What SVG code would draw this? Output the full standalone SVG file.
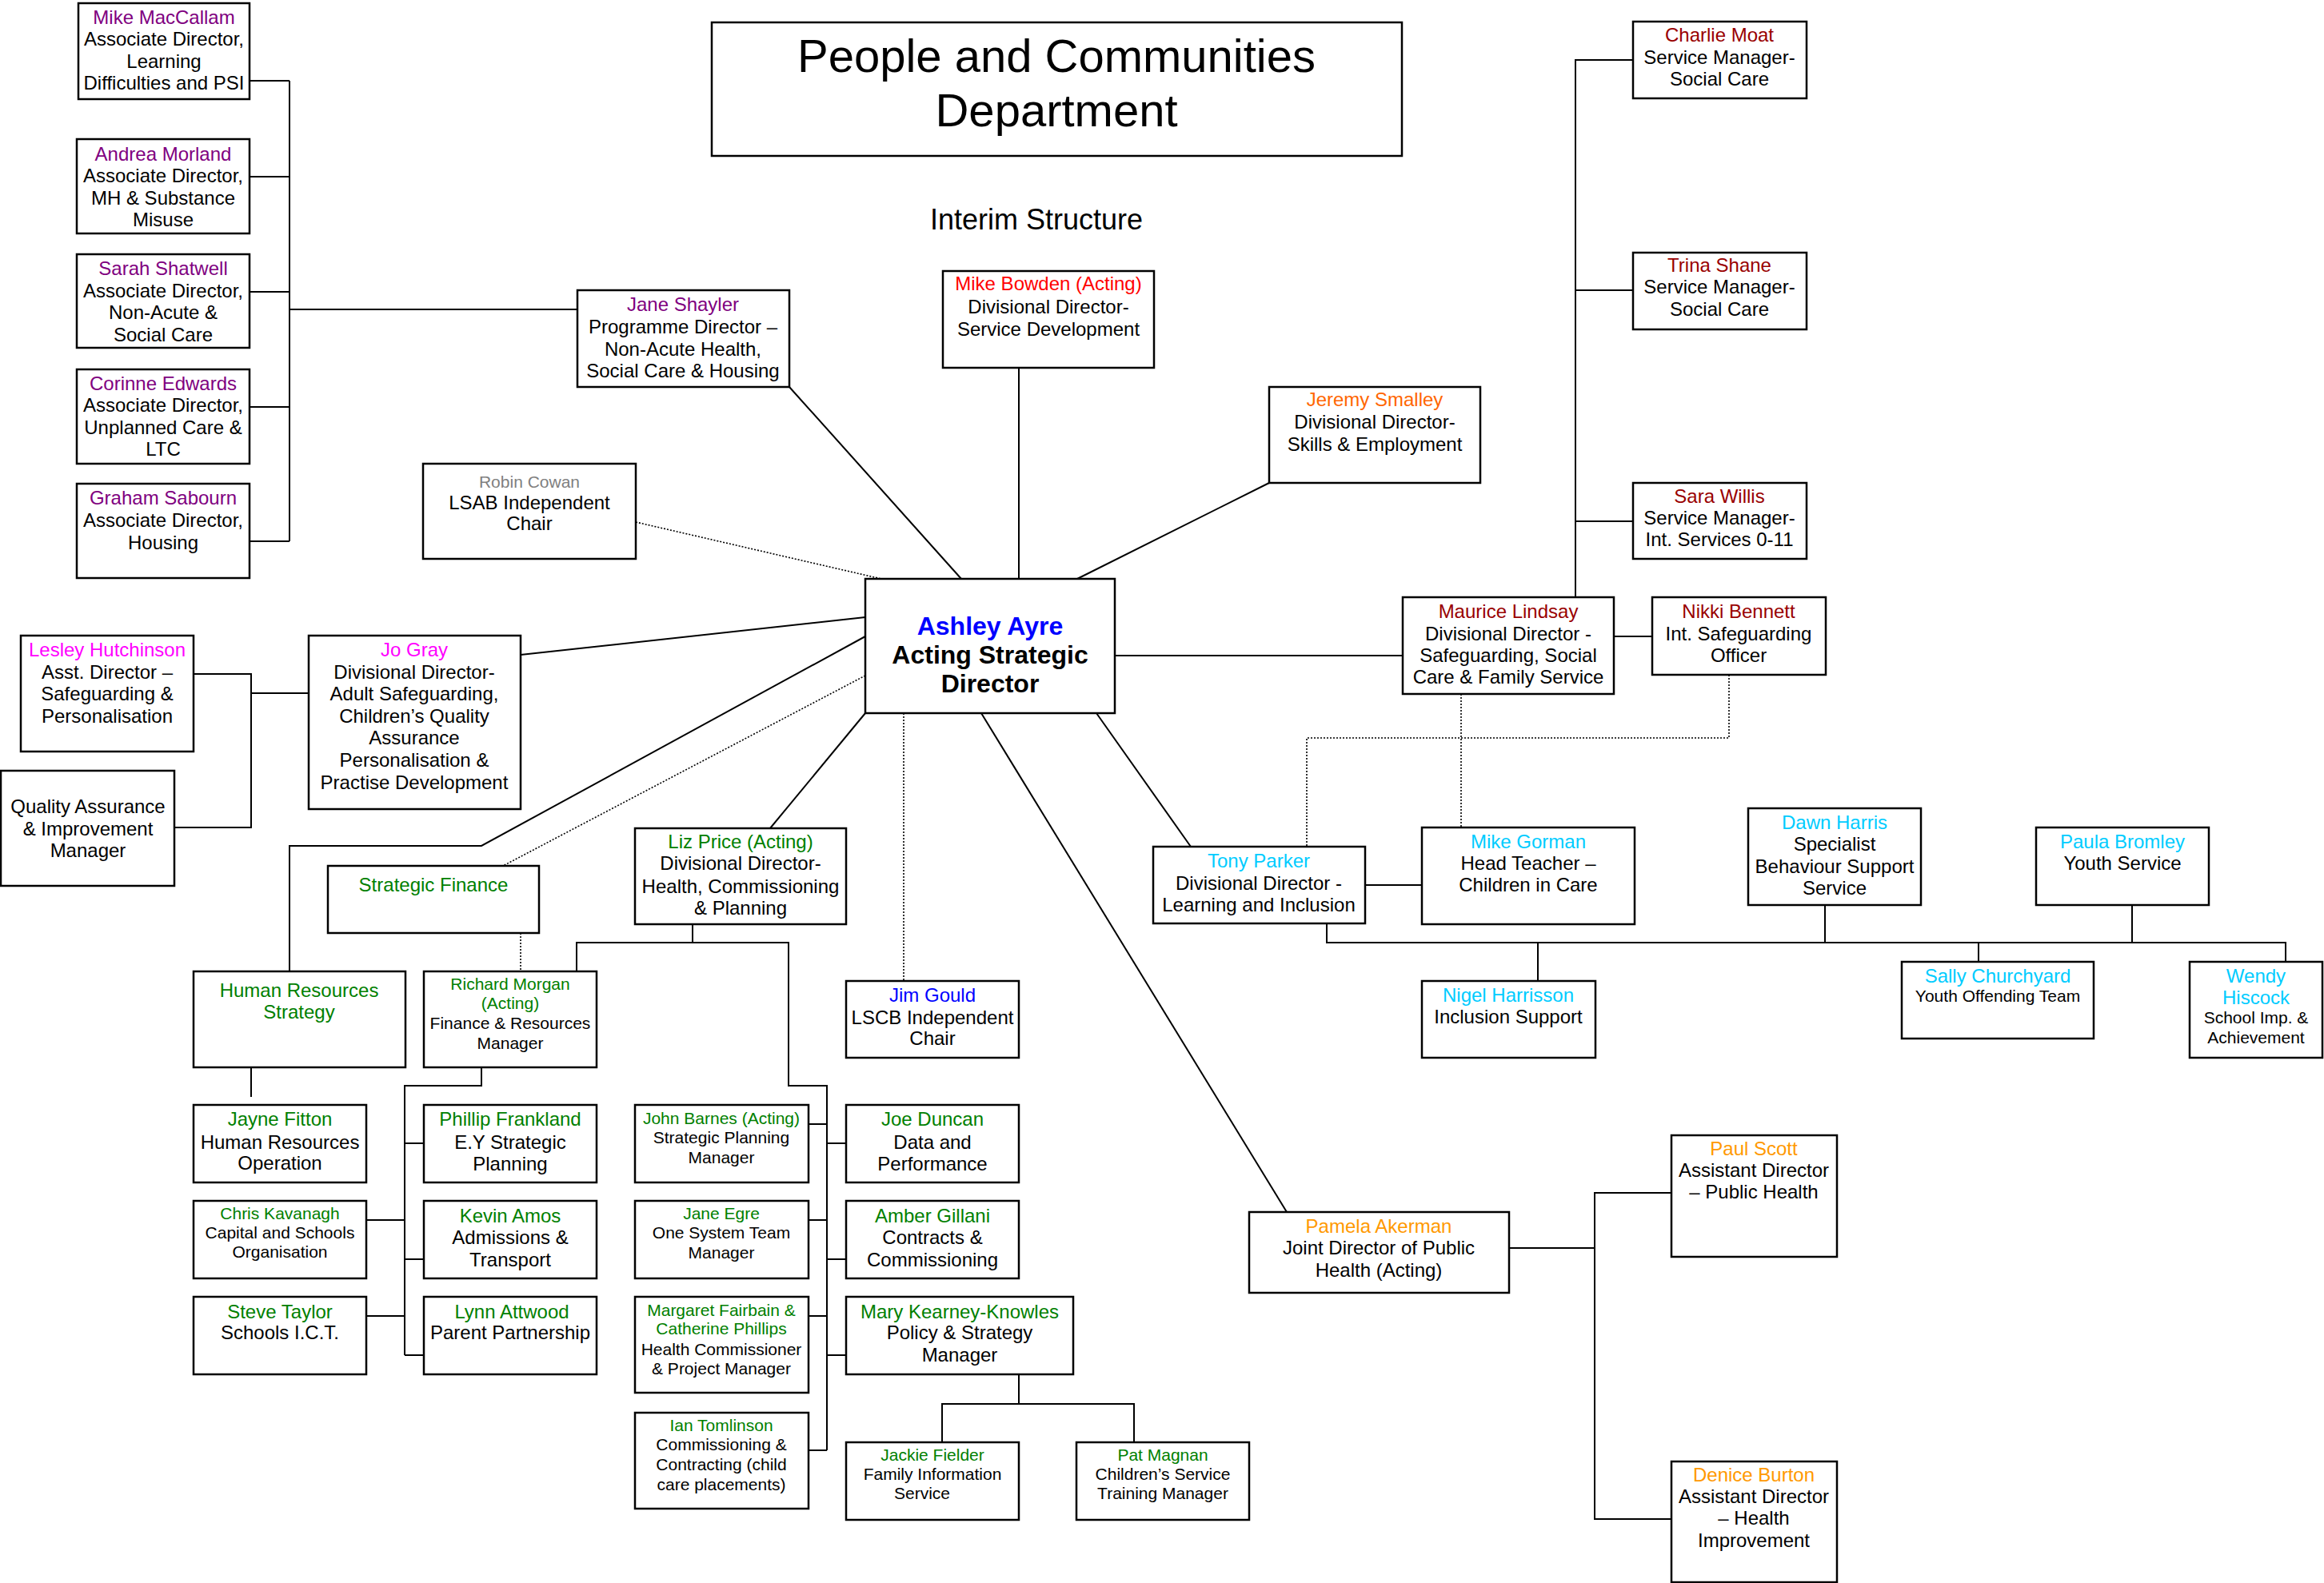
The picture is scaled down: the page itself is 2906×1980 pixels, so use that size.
<svg xmlns="http://www.w3.org/2000/svg" width="2906" height="1980" viewBox="0 0 2906 1980">
<style>
rect{fill:#fff;stroke:#000;stroke-width:2.5}
text{font-family:"Liberation Sans",Arial,sans-serif;font-size:24px;text-anchor:middle;fill:#000}
.s{font-size:21px}
.t{font-size:58px}
.i{font-size:36px}
.b{font-size:32px;font-weight:bold}
.pu{fill:#800080}.gy{fill:#808080}.rd{fill:#FF0000}.or{fill:#FF6600}.dr{fill:#990000}
.mg{fill:#FF00FF}.bl{fill:#0000FF}.gn{fill:#008000}.cy{fill:#00CCFF}.po{fill:#FF9900}
#connectors path{fill:none;stroke:#000;stroke-width:2}
#connectors path.d{stroke-width:1.6;stroke-dasharray:2 2}
</style>
<rect x="0" y="0" width="2906" height="1980" style="stroke:none"/>
<g id="connectors">
<path d="M312,101H362M312,221H362M312,365H362M312,509H362M312,677H362M362,101V677M362,387H722"/>
<path d="M987,484L1202,724M1274,460V724M1587,604L1347,724"/>
<path class="d" d="M795,653L1102,724"/>
<path d="M2042,75H1970V747M1970,363H2042M1970,652H2042"/>
<path d="M1394,820H1754M2018,796H2066"/>
<path d="M242,843H314V1035H218M314,867H386"/>
<path d="M651,819L1082,772"/>
<path d="M1082,796L602,1058H362V1215"/>
<path class="d" d="M1082,845L629,1083M651,1167V1215"/>
<path d="M1082,892L963,1036"/>
<path d="M866,1156V1179M721,1215V1179H986V1358H1034V1814M1011,1406H1034M1034,1430H1058M1011,1526H1034M1034,1575H1058M1011,1646H1034M1034,1695H1058M1011,1814H1034"/>
<path d="M314,1335V1372M602,1335V1358H506V1695M506,1430H530M458,1526H506M506,1575H530M458,1646H506M506,1695H530"/>
<path d="M1274,1714V1756M1178,1804V1756H1418V1804"/>
<path class="d" d="M1130,892V1227"/>
<path d="M1227,892L1609,1516"/>
<path d="M1887,1561H1994M2090,1492H1994V1900H2090"/>
<path d="M1371,892L1489,1059M1707,1107H1778"/>
<path class="d" d="M1827,868V1035M2162,844V923H1634V1075"/>
<path d="M1659,1155V1179H2858V1203M2282,1132V1179M2666,1132V1179M1923,1179V1227M2474,1179V1203"/>
</g>
<g id="title"><rect x="890" y="28" width="863" height="167"/>
<text class="t"><tspan x="1321" y="90">People and Communities</tspan><tspan x="1321" y="158">Department</tspan></text></g>
<g id="subtitle"><text class="i" x="1296" y="287">Interim Structure</text></g>
<g id="n-maccallam"><rect x="98" y="4" width="214" height="120"/>
<text><tspan class="pu" x="205" y="30">Mike MacCallam</tspan><tspan x="205" y="57">Associate Director,</tspan><tspan x="205" y="85">Learning</tspan><tspan x="205" y="112">Difficulties and PSI</tspan></text></g>
<g id="n-morland"><rect x="96" y="174" width="216" height="118"/>
<text><tspan class="pu" x="204" y="201">Andrea Morland</tspan><tspan x="204" y="228">Associate Director,</tspan><tspan x="204" y="256">MH &amp; Substance</tspan><tspan x="204" y="283">Misuse</tspan></text></g>
<g id="n-shatwell"><rect x="96" y="318" width="216" height="117"/>
<text><tspan class="pu" x="204" y="344">Sarah Shatwell</tspan><tspan x="204" y="372">Associate Director,</tspan><tspan x="204" y="399">Non-Acute &amp;</tspan><tspan x="204" y="427">Social Care</tspan></text></g>
<g id="n-edwards"><rect x="96" y="462" width="216" height="118"/>
<text><tspan class="pu" x="204" y="488">Corinne Edwards</tspan><tspan x="204" y="515">Associate Director,</tspan><tspan x="204" y="543">Unplanned Care &amp;</tspan><tspan x="204" y="570">LTC</tspan></text></g>
<g id="n-sabourn"><rect x="96" y="605" width="216" height="118"/>
<text><tspan class="pu" x="204" y="631">Graham Sabourn</tspan><tspan x="204" y="659">Associate Director,</tspan><tspan x="204" y="687">Housing</tspan></text></g>
<g id="n-shayler"><rect x="722" y="363" width="265" height="121"/>
<text><tspan class="pu" x="854" y="389">Jane Shayler</tspan><tspan x="854" y="417">Programme Director –</tspan><tspan x="854" y="445">Non-Acute Health,</tspan><tspan x="854" y="472">Social Care &amp; Housing</tspan></text></g>
<g id="n-bowden"><rect x="1179" y="339" width="264" height="121"/>
<text><tspan class="rd" x="1311" y="363">Mike Bowden (Acting)</tspan><tspan x="1311" y="392">Divisional Director-</tspan><tspan x="1311" y="420">Service Development</tspan></text></g>
<g id="n-cowan"><rect x="529" y="580" width="266" height="119"/>
<text><tspan class="gy s" x="662" y="610">Robin Cowan</tspan><tspan x="662" y="637">LSAB Independent</tspan><tspan x="662" y="663">Chair</tspan></text></g>
<g id="n-smalley"><rect x="1587" y="484" width="264" height="120"/>
<text><tspan class="or" x="1719" y="508">Jeremy Smalley</tspan><tspan x="1719" y="536">Divisional Director-</tspan><tspan x="1719" y="564">Skills &amp; Employment</tspan></text></g>
<g id="n-moat"><rect x="2042" y="27" width="217" height="96"/>
<text><tspan class="dr" x="2150" y="52">Charlie Moat</tspan><tspan x="2150" y="80">Service Manager-</tspan><tspan x="2150" y="107">Social Care</tspan></text></g>
<g id="n-shane"><rect x="2042" y="316" width="217" height="96"/>
<text><tspan class="dr" x="2150" y="340">Trina Shane</tspan><tspan x="2150" y="367">Service Manager-</tspan><tspan x="2150" y="395">Social Care</tspan></text></g>
<g id="n-willis"><rect x="2042" y="604" width="217" height="95"/>
<text><tspan class="dr" x="2150" y="629">Sara Willis</tspan><tspan x="2150" y="656">Service Manager-</tspan><tspan x="2150" y="683">Int. Services 0-11</tspan></text></g>
<g id="n-lindsay"><rect x="1754" y="747" width="264" height="121"/>
<text><tspan class="dr" x="1886" y="773">Maurice Lindsay</tspan><tspan x="1886" y="801">Divisional Director -</tspan><tspan x="1886" y="828">Safeguarding, Social</tspan><tspan x="1886" y="855">Care &amp; Family Service</tspan></text></g>
<g id="n-bennett"><rect x="2066" y="747" width="217" height="97"/>
<text><tspan class="dr" x="2174" y="773">Nikki Bennett</tspan><tspan x="2174" y="801">Int. Safeguarding</tspan><tspan x="2174" y="828">Officer</tspan></text></g>
<g id="n-ayre"><rect x="1082" y="724" width="312" height="168"/>
<text class="b"><tspan class="bl" x="1238" y="794">Ashley Ayre</tspan><tspan x="1238" y="830">Acting Strategic</tspan><tspan x="1238" y="866">Director</tspan></text></g>
<g id="n-hutchinson"><rect x="26" y="795" width="216" height="145"/>
<text><tspan class="mg" x="134" y="821">Lesley Hutchinson</tspan><tspan x="134" y="849">Asst. Director –</tspan><tspan x="134" y="876">Safeguarding &amp;</tspan><tspan x="134" y="904">Personalisation</tspan></text></g>
<g id="n-quality"><rect x="1" y="964" width="217" height="144"/>
<text><tspan x="110" y="1017">Quality Assurance</tspan><tspan x="110" y="1045">&amp; Improvement</tspan><tspan x="110" y="1072">Manager</tspan></text></g>
<g id="n-gray"><rect x="386" y="795" width="265" height="217"/>
<text><tspan class="mg" x="518" y="821">Jo Gray</tspan><tspan x="518" y="849">Divisional Director-</tspan><tspan x="518" y="876">Adult Safeguarding,</tspan><tspan x="518" y="904">Children’s Quality</tspan><tspan x="518" y="931">Assurance</tspan><tspan x="518" y="959">Personalisation &amp;</tspan><tspan x="518" y="987">Practise Development</tspan></text></g>
<g id="n-finance"><rect x="410" y="1083" width="264" height="84"/>
<text class="gn" x="542" y="1115">Strategic Finance</text></g>
<g id="n-price"><rect x="794" y="1036" width="264" height="120"/>
<text><tspan class="gn" x="926" y="1061">Liz Price (Acting)</tspan><tspan x="926" y="1088">Divisional Director-</tspan><tspan x="926" y="1117">Health, Commissioning</tspan><tspan x="926" y="1144">&amp; Planning</tspan></text></g>
<g id="n-hr"><rect x="242" y="1215" width="265" height="120"/>
<text class="gn"><tspan x="374" y="1247">Human Resources</tspan><tspan x="374" y="1274">Strategy</tspan></text></g>
<g id="n-morgan"><rect x="530" y="1215" width="216" height="120"/>
<text class="s"><tspan class="gn" x="638" y="1238">Richard Morgan</tspan><tspan class="gn" x="638" y="1262">(Acting)</tspan><tspan x="638" y="1287">Finance &amp; Resources</tspan><tspan x="638" y="1312">Manager</tspan></text></g>
<g id="n-fitton"><rect x="242" y="1382" width="216" height="97"/>
<text><tspan class="gn" x="350" y="1408">Jayne Fitton</tspan><tspan x="350" y="1437">Human Resources</tspan><tspan x="350" y="1463">Operation</tspan></text></g>
<g id="n-kavanagh"><rect x="242" y="1502" width="216" height="97"/>
<text class="s"><tspan class="gn" x="350" y="1525">Chris Kavanagh</tspan><tspan x="350" y="1549">Capital and Schools</tspan><tspan x="350" y="1573">Organisation</tspan></text></g>
<g id="n-taylor"><rect x="242" y="1622" width="216" height="97"/>
<text><tspan class="gn" x="350" y="1649">Steve Taylor</tspan><tspan x="350" y="1675">Schools I.C.T.</tspan></text></g>
<g id="n-frankland"><rect x="530" y="1382" width="216" height="97"/>
<text><tspan class="gn" x="638" y="1408">Phillip Frankland</tspan><tspan x="638" y="1437">E.Y Strategic</tspan><tspan x="638" y="1464">Planning</tspan></text></g>
<g id="n-amos"><rect x="530" y="1502" width="216" height="97"/>
<text><tspan class="gn" x="638" y="1529">Kevin Amos</tspan><tspan x="638" y="1556">Admissions &amp;</tspan><tspan x="638" y="1584">Transport</tspan></text></g>
<g id="n-attwood"><rect x="530" y="1622" width="216" height="97"/>
<text><tspan class="gn" x="640" y="1649">Lynn Attwood</tspan><tspan x="638" y="1675">Parent Partnership</tspan></text></g>
<g id="n-barnes"><rect x="794" y="1382" width="217" height="97"/>
<text class="s"><tspan class="gn" x="902" y="1406">John Barnes (Acting)</tspan><tspan x="902" y="1430">Strategic Planning</tspan><tspan x="902" y="1455">Manager</tspan></text></g>
<g id="n-egre"><rect x="794" y="1502" width="217" height="97"/>
<text class="s"><tspan class="gn" x="902" y="1525">Jane Egre</tspan><tspan x="902" y="1549">One System Team</tspan><tspan x="902" y="1574">Manager</tspan></text></g>
<g id="n-fairbain"><rect x="794" y="1622" width="217" height="120"/>
<text class="s"><tspan class="gn" x="902" y="1646">Margaret Fairbain &amp;</tspan><tspan class="gn" x="902" y="1669">Catherine Phillips</tspan><tspan x="902" y="1695">Health Commissioner</tspan><tspan x="902" y="1719">&amp; Project Manager</tspan></text></g>
<g id="n-tomlinson"><rect x="794" y="1767" width="217" height="120"/>
<text class="s"><tspan class="gn" x="902" y="1790">Ian Tomlinson</tspan><tspan x="902" y="1814">Commissioning &amp;</tspan><tspan x="902" y="1839">Contracting (child</tspan><tspan x="902" y="1864">care placements)</tspan></text></g>
<g id="n-duncan"><rect x="1058" y="1382" width="216" height="97"/>
<text><tspan class="gn" x="1166" y="1408">Joe Duncan</tspan><tspan x="1166" y="1437">Data and</tspan><tspan x="1166" y="1464">Performance</tspan></text></g>
<g id="n-gillani"><rect x="1058" y="1502" width="216" height="97"/>
<text><tspan class="gn" x="1166" y="1529">Amber Gillani</tspan><tspan x="1166" y="1556">Contracts &amp;</tspan><tspan x="1166" y="1584">Commissioning</tspan></text></g>
<g id="n-kearney"><rect x="1058" y="1622" width="284" height="97"/>
<text><tspan class="gn" x="1200" y="1649">Mary Kearney-Knowles</tspan><tspan x="1200" y="1675">Policy &amp; Strategy</tspan><tspan x="1200" y="1703">Manager</tspan></text></g>
<g id="n-fielder"><rect x="1058" y="1804" width="216" height="97"/>
<text class="s"><tspan class="gn" x="1166" y="1827">Jackie Fielder</tspan><tspan x="1166" y="1851">Family Information</tspan><tspan x="1153" y="1875">Service</tspan></text></g>
<g id="n-magnan"><rect x="1346" y="1804" width="216" height="97"/>
<text class="s"><tspan class="gn" x="1454" y="1827">Pat Magnan</tspan><tspan x="1454" y="1851">Children’s Service</tspan><tspan x="1454" y="1875">Training Manager</tspan></text></g>
<g id="n-gould"><rect x="1058" y="1227" width="216" height="96"/>
<text><tspan class="bl" x="1166" y="1253">Jim Gould</tspan><tspan x="1166" y="1281">LSCB Independent</tspan><tspan x="1166" y="1307">Chair</tspan></text></g>
<g id="n-akerman"><rect x="1562" y="1516" width="325" height="101"/>
<text><tspan class="po" x="1724" y="1542">Pamela Akerman</tspan><tspan x="1724" y="1569">Joint Director of Public</tspan><tspan x="1724" y="1597">Health (Acting)</tspan></text></g>
<g id="n-scott"><rect x="2090" y="1420" width="207" height="152"/>
<text><tspan class="po" x="2193" y="1445">Paul Scott</tspan><tspan x="2193" y="1472">Assistant Director</tspan><tspan x="2193" y="1499">– Public Health</tspan></text></g>
<g id="n-burton"><rect x="2090" y="1828" width="207" height="151"/>
<text><tspan class="po" x="2193" y="1853">Denice Burton</tspan><tspan x="2193" y="1880">Assistant Director</tspan><tspan x="2193" y="1907">– Health</tspan><tspan x="2193" y="1935">Improvement</tspan></text></g>
<g id="n-parker"><rect x="1442" y="1059" width="265" height="96"/>
<text><tspan class="cy" x="1574" y="1085">Tony Parker</tspan><tspan x="1574" y="1113">Divisional Director -</tspan><tspan x="1574" y="1140">Learning and Inclusion</tspan></text></g>
<g id="n-gorman"><rect x="1778" y="1035" width="266" height="121"/>
<text><tspan class="cy" x="1911" y="1061">Mike Gorman</tspan><tspan x="1911" y="1088">Head Teacher –</tspan><tspan x="1911" y="1115">Children in Care</tspan></text></g>
<g id="n-harris"><rect x="2186" y="1011" width="216" height="121"/>
<text><tspan class="cy" x="2294" y="1037">Dawn Harris</tspan><tspan x="2294" y="1064">Specialist</tspan><tspan x="2294" y="1092">Behaviour Support</tspan><tspan x="2294" y="1119">Service</tspan></text></g>
<g id="n-bromley"><rect x="2546" y="1035" width="216" height="97"/>
<text><tspan class="cy" x="2654" y="1061">Paula Bromley</tspan><tspan x="2654" y="1088">Youth Service</tspan></text></g>
<g id="n-harrisson"><rect x="1778" y="1227" width="217" height="96"/>
<text><tspan class="cy" x="1886" y="1253">Nigel Harrisson</tspan><tspan x="1886" y="1280">Inclusion Support</tspan></text></g>
<g id="n-churchyard"><rect x="2378" y="1203" width="240" height="96"/>
<text><tspan class="cy" x="2498" y="1229">Sally Churchyard</tspan><tspan class="s" x="2498" y="1253">Youth Offending Team</tspan></text></g>
<g id="n-hiscock"><rect x="2738" y="1203" width="166" height="120"/>
<text><tspan class="cy" x="2821" y="1229">Wendy</tspan><tspan class="cy" x="2821" y="1256">Hiscock</tspan><tspan class="s" x="2821" y="1280">School Imp. &amp;</tspan><tspan class="s" x="2821" y="1305">Achievement</tspan></text></g>
</svg>
